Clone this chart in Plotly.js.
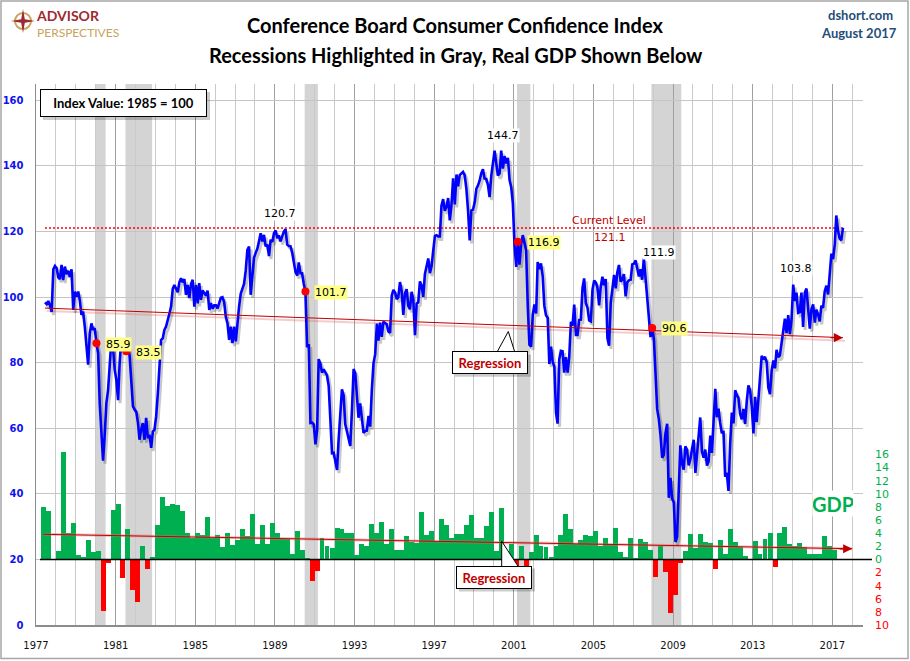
<!DOCTYPE html>
<html><head><meta charset="utf-8">
<script src="https://cdn.plot.ly/plotly-3.0.1.min.js"></script>
<style>html,body{margin:0;padding:0;background:#fff}#chart{width:910px;height:661px}</style>
</head><body><div id="chart"></div>
<script>
// ---------------- DATA ----------------
// Conference Board Consumer Confidence Index, monthly, starting June 1977
const cciStartYear = 1977, cciStartMonth = 6;
const cci1977_1986 = [
 98.4, 97.9, 98.8, 97.5, 95.5, 108.5, 109.5,
 108.8, 106.0, 105.5, 109.8, 105.2, 109.3, 107.0, 108.0, 106.2, 108.5, 96.1, 101.7,
 100.2, 101.7, 99.1, 94.6, 95.6, 91.0, 83.9, 79.4, 89.0, 92.0, 90.0, 90.5,
 85.9, 82.9, 67.6, 56.4, 50.1, 58.0, 67.6, 71.6, 79.8, 86.9, 84.4, 77.8,
 74.7, 68.6, 79.8, 86.9, 84.9, 85.9, 83.5, 85.0, 82.0, 73.8, 66.7, 65.7,
 65.0, 61.6, 56.5, 59.6, 61.6, 56.5, 63.2, 57.0, 58.0, 54.0, 59.0, 59.6,
 63.7, 70.8, 79.8, 86.9, 87.4, 90.0, 91.0, 93.5, 95.0, 97.1, 102.5, 103.7,
 102.5, 101.5, 104.5, 105.8, 104.5, 105.5, 100.7, 103.7, 99.7, 104.0, 105.3, 97.1,
 103.7, 98.1, 104.3, 99.2, 102.0, 101.0, 100.5, 102.0, 96.1, 98.2, 96.5, 97.5,
 97.5, 96.6, 98.0, 99.8, 100.0, 98.5, 94.0, 92.0, 87.0, 91.0, 86.0, 91.0
];
const cci1987_1996 = [
 86.5, 93.0, 97.0, 101.0, 102.7, 104.0, 108.0, 114.4, 115.4, 100.7, 106.5, 112.0,
 113.5, 114.8, 117.0, 119.5, 117.0, 119.0, 115.5, 116.0, 112.5, 117.5, 116.8, 119.5,
 120.3, 118.0, 118.8, 117.0, 118.5, 120.0, 120.7, 116.0, 115.6, 115.5, 113.5, 111.0,
 107.6, 106.6, 110.6, 107.3, 107.3, 104.0, 101.7, 84.7, 85.6, 61.6, 61.7, 61.2,
 55.1, 59.4, 81.1, 79.7, 77.0, 78.0, 77.2, 76.1, 72.9, 60.4, 52.4, 52.5,
 50.2, 47.3, 56.5, 65.1, 71.9, 70.0, 61.2, 59.0, 56.4, 54.6, 65.6, 78.1,
 76.7, 68.5, 63.2, 67.6, 61.9, 58.6, 59.2, 59.3, 63.8, 60.5, 71.9, 79.8,
 82.6, 91.9, 86.7, 92.2, 87.9, 92.5, 92.1, 91.7, 89.5, 89.1, 100.4, 102.2,
 101.4, 99.4, 100.0, 104.6, 102.0, 94.6, 101.1, 102.4, 97.3, 96.3, 101.6, 99.2,
 88.4, 98.0, 98.4, 104.8, 103.5, 100.1, 107.0, 109.4, 111.8, 107.3, 109.5, 114.2
];
const cci1997_2006 = [
 118.7, 118.9, 118.5, 118.5, 127.9, 129.9, 126.3, 127.6, 130.2, 123.4, 128.1, 136.2,
 128.3, 137.4, 133.8, 137.2, 137.6, 138.2, 137.2, 133.1, 126.4, 117.3, 126.4, 126.7,
 128.9, 133.1, 134.0, 135.5, 137.7, 139.0, 136.2, 136.0, 134.2, 130.5, 137.0, 141.7,
 144.7, 140.8, 137.1, 137.7, 144.7, 139.2, 143.0, 140.8, 142.5, 135.8, 133.5, 128.6,
 115.7, 109.2, 116.9, 109.9, 116.1, 118.9, 116.3, 114.3, 97.0, 85.5, 84.9, 94.6,
 97.8, 95.0, 110.7, 108.5, 110.3, 106.4, 97.4, 94.5, 93.7, 79.6, 84.9, 80.3,
 78.8, 64.8, 61.4, 81.0, 83.6, 83.5, 77.0, 81.7, 77.0, 81.7, 92.5, 91.3,
 97.7, 88.5, 88.5, 93.0, 93.1, 102.8, 105.7, 98.2, 96.7, 92.9, 92.6, 102.3,
 105.1, 104.4, 103.0, 97.5, 103.1, 106.2, 103.6, 105.5, 87.5, 85.2, 98.3, 103.6,
 106.8, 102.7, 107.5, 109.8, 104.7, 105.4, 107.0, 100.2, 104.5, 105.1, 105.3, 110.0
];
const cci2007_2017 = [
 110.2, 111.2, 108.2, 106.3, 108.5, 105.3, 111.9, 105.6, 99.5, 95.2, 87.8, 90.6,
 87.3, 76.4, 65.9, 62.8, 58.1, 51.0, 51.9, 58.5, 61.4, 38.8, 44.9, 38.6,
 37.4, 25.3, 26.9, 40.8, 54.8, 49.3, 47.4, 54.5, 53.4, 48.7, 50.6, 53.6,
 56.5, 46.4, 52.3, 57.7, 63.3, 52.9, 51.0, 53.5, 48.6, 49.9, 57.8, 52.5,
 64.8, 72.0, 63.4, 66.0, 61.7, 58.5, 59.2, 45.2, 46.4, 40.9, 55.2, 64.8,
 61.5, 71.6, 70.2, 69.2, 64.4, 62.7, 65.9, 61.3, 68.4, 73.1, 71.5, 66.7,
 58.4, 69.6, 61.9, 68.1, 76.2, 82.1, 81.0, 81.8, 80.2, 72.4, 70.4, 77.5,
 80.7, 78.3, 83.9, 81.7, 82.2, 86.4, 90.9, 93.4, 89.0, 94.5, 88.7, 93.1,
 103.8, 98.8, 101.4, 95.2, 95.4, 101.4, 90.9, 101.3, 102.6, 97.6, 90.4, 96.3,
 97.8, 92.2, 96.2, 94.7, 92.6, 97.4, 96.7, 101.8, 103.5, 100.8, 107.1, 113.3,
 111.6, 116.1, 124.9, 120.3, 117.9, 117.3, 121.1
];
// Real GDP, quarterly % change (annualized), starting 1977 Q2
const gdpStartYear = 1977, gdpStartQuarter = 2;
const gdp1977_1986 = [
 8.0, 7.4, 0.0,
 1.3, 16.4, 4.1, 5.5,
 0.7, 0.4, 2.9, 1.1,
 1.3, -7.9, -0.5, 7.6,
 8.5, -2.8, 4.7, -4.6,
 -6.5, 2.1, -1.4, 0.3,
 5.3, 9.5, 8.1, 8.5,
 8.3, 7.4, 4.0, 3.2,
 4.1, 3.7, 6.4, 3.2,
 3.8, 1.9, 4.1, 2.2
];
const gdp1987_1996 = [
 2.9, 4.6, 3.6, 6.9,
 2.3, 5.3, 2.3, 5.5,
 4.1, 3.1, 3.1, 0.8,
 4.4, 1.5, 0.2, -3.3,
 -1.8, 3.2, 2.0, 1.7,
 4.8, 4.6, 4.0, 4.1,
 0.7, 2.4, 2.0, 5.4,
 4.1, 5.7, 2.4, 4.6,
 1.4, 1.4, 3.5, 2.7,
 2.5, 7.2, 3.8, 4.3
];
const gdp1997_2006 = [
 2.8, 6.2, 5.2, 3.2,
 3.9, 3.9, 5.3, 6.7,
 3.2, 3.3, 5.1, 7.2,
 1.3, 7.8, 0.5, 2.3,
 -1.1, 2.1, -1.3, 1.1,
 3.8, 2.1, 1.9, 0.4,
 2.1, 3.8, 6.9, 4.7,
 2.3, 2.9, 3.7, 3.5,
 4.3, 2.1, 3.3, 2.3,
 4.8, 1.2, 0.4, 3.2
];
const gdp2007_2017 = [
 0.2, 3.1, 2.7, 1.4,
 -2.7, 2.0, -1.9, -8.1,
 -5.4, -0.5, 1.3, 3.9,
 1.7, 3.9, 2.7, 2.5,
 -1.5, 2.9, 0.8, 4.6,
 2.7, 1.9, 0.5, 0.1,
 2.8, 0.8, 3.1, 4.0,
 -1.2, 4.0, 5.0, 2.3,
 2.0, 2.5, 1.9, 0.9,
 0.8, 0.9, 3.5, 2.1,
 1.4
];
// NBER recessions
const recessionStart = ['1980-01-01', '1981-07-01', '1990-07-01', '2001-03-01', '2007-12-01'];
const recessionEnd   = ['1980-07-01', '1982-11-01', '1991-03-01', '2001-11-01', '2009-06-01'];
// months marked with red dots (recession starts) and peak labels
const recessionMarks = ['1980-01', '1981-07', '1990-07', '2001-03', '2007-12'];
const peakMarks = ['1989-07', '2000-05', '2007-07', '2015-01'];
const gdpPosTicks = [0, 2, 4, 6, 8, 10, 12, 14, 16];
const gdpNegTicks = [-2, -4, -6, -8, -10];

// ---------------- BUILD ----------------
const pad = n => String(n).padStart(2, '0');
const cci = [].concat(cci1977_1986, cci1987_1996, cci1997_2006, cci2007_2017);
const cciKeys = cci.map((v, i) => {
  const m0 = (cciStartMonth - 1) + i;
  return (cciStartYear + Math.floor(m0 / 12)) + '-' + pad(m0 % 12 + 1);
});
const cciDates = cciKeys.map(k => k + '-15');
const gdp = [].concat(gdp1977_1986, gdp1987_1996, gdp1997_2006, gdp2007_2017);
const gdpDates = gdp.map((v, i) => {
  const m0 = (gdpStartQuarter - 1) * 3 + 3 * i + 1;
  return (gdpStartYear + Math.floor(m0 / 12)) + '-' + pad(m0 % 12 + 1) + '-15';
});

function linreg(xs, ys) {
  let n = xs.length, sx = 0, sy = 0, sxx = 0, sxy = 0;
  for (let i = 0; i < n; i++) { sx += xs[i]; sy += ys[i]; sxx += xs[i] * xs[i]; sxy += xs[i] * ys[i]; }
  const b = (n * sxy - sx * sy) / (n * sxx - sx * sx);
  return { a: (sy - b * sx) / n, b: b };
}
const rC = linreg(cciDates.map(d => Date.parse(d)), cci);
const regCX = [cciDates[0], cciDates[cciDates.length - 1]];
const regCY = regCX.map(d => rC.a + rC.b * Date.parse(d));
const rG = linreg(gdpDates.map(d => Date.parse(d)), gdp);
const regGX = [gdpDates[0], '2018-01-01'];
const regGY = regGX.map(d => rG.a + rG.b * Date.parse(d));

const lastVal = cci[cci.length - 1];
const lastDate = cciDates[cciDates.length - 1];
const markIdx = recessionMarks.map(k => cciKeys.indexOf(k));
const peakIdx = peakMarks.map(k => cciKeys.indexOf(k));

// pixel -> paper helpers (layout geometry)
const PL = 36, PW = 832, PB = 628.5, PH = 544.5;
const px = X => (X - PL) / PW;
const py = Y => (PB - Y) / PH;
const pathOf = pts => 'M ' + pts.map(p => px(p[0]) + ',' + py(p[1])).join(' L ') + ' Z';

const XR = ['1977-01-01', '2018-07-18'];
const YR = [0, 165];
const GR = [-10, 72.5];
const QW = 91.3 * 24 * 3600 * 1000;

const traces = [
  { type: 'bar', x: gdpDates, y: gdp, xaxis: 'x', yaxis: 'y2', width: QW,
    marker: { color: gdp.map(v => v >= 0 ? '#00B050' : '#FF0000'), line: { width: 0 } } },
  { type: 'scatter', mode: 'lines', x: regGX, y: regGY, xaxis: 'x', yaxis: 'y2',
    line: { color: 'rgba(225,110,110,0.4)', width: 3 } },
  { type: 'scatter', mode: 'lines', x: regGX, y: regGY, xaxis: 'x', yaxis: 'y2',
    line: { color: '#C00000', width: 1 } },
  { type: 'scatter', mode: 'markers', x: [gdpDates[0]], y: [0], xaxis: 'x', yaxis: 'y3',
    marker: { opacity: 0 } },
  // shadows (shifted subplot)
  { type: 'scatter', mode: 'lines', x: regCX, y: regCY, xaxis: 'x2', yaxis: 'y4',
    line: { color: 'rgba(225,110,110,0.35)', width: 2 } },
  { type: 'scatter', mode: 'lines', x: cciDates, y: cci, xaxis: 'x2', yaxis: 'y4',
    line: { color: 'rgba(0,0,0,0.22)', width: 3 } },
  // top layer
  { type: 'scatter', mode: 'lines', x: [cciDates[0], lastDate], y: [lastVal, lastVal], xaxis: 'x3', yaxis: 'y5',
    line: { color: '#FF0000', width: 1.5, dash: '2px,2px' } },
  { type: 'scatter', mode: 'lines', x: cciDates, y: cci, xaxis: 'x3', yaxis: 'y5',
    line: { color: '#0000FF', width: 2.6 } },
  { type: 'scatter', mode: 'lines', x: regCX, y: regCY, xaxis: 'x3', yaxis: 'y5',
    line: { color: '#C00000', width: 1 } },
  { type: 'scatter', mode: 'markers', x: markIdx.map(i => cciDates[i]), y: markIdx.map(i => cci[i]),
    xaxis: 'x3', yaxis: 'y5', marker: { color: '#FF0000', size: 8 } }
];

const shapes = [];
recessionStart.forEach((s, i) => shapes.push({
  type: 'rect', xref: 'x', yref: 'paper', x0: s, x1: recessionEnd[i], y0: py(625.5), y1: 1,
  fillcolor: '#D4D4D4', line: { width: 0 }, layer: 'below' }));
// GDP zero baseline
shapes.push({ type: 'line', xref: 'paper', yref: 'y2', x0: px(40), x1: px(872), y0: 0, y1: 0,
  line: { color: '#000', width: 1.5 }, layer: 'above' });
// box shadows
[[43, 92, 210, 120], [455, 355, 531, 377], [459, 569, 535, 592]].forEach(b => shapes.push({
  type: 'rect', xref: 'paper', yref: 'paper', x0: px(b[0]), x1: px(b[2]), y0: py(b[3]), y1: py(b[1]),
  fillcolor: 'rgba(0,0,0,0.2)', line: { width: 0 }, layer: 'above' }));
// callout pointers
shapes.push({ type: 'path', xref: 'paper', yref: 'paper', path: pathOf([[496.7, 353], [508.3, 331.7], [515, 353]]),
  fillcolor: '#fff', line: { color: '#000', width: 1 }, layer: 'above' });
shapes.push({ type: 'path', xref: 'paper', yref: 'paper', path: pathOf([[501.7, 567], [501.7, 541.7], [518.3, 567]]),
  fillcolor: '#fff', line: { color: '#000', width: 1 }, layer: 'above' });
// logo emblem
shapes.push({ type: 'circle', xref: 'paper', yref: 'paper', x0: px(15), x1: px(31), y0: py(29), y1: py(13),
  line: { color: '#C9A45C', width: 2 }, layer: 'above' });
shapes.push({ type: 'path', xref: 'paper', yref: 'paper',
  path: pathOf([[23, 9], [24.8, 19.2], [35, 21], [24.8, 22.8], [23, 33], [21.2, 22.8], [11, 21], [21.2, 19.2]]),
  fillcolor: '#A02830', line: { width: 0 }, layer: 'above' });
// outer frame
shapes.push({ type: 'rect', xref: 'paper', yref: 'paper', x0: px(1), x1: px(908), y0: py(659), y1: py(1),
  line: { color: '#A6A6A6', width: 1.5 }, layer: 'above' });

const numFont = { family: 'DejaVu Sans', size: 11, color: '#000' };
function P(X, Y, text, font, extra) {
  return Object.assign({ xref: 'paper', yref: 'paper', x: px(X), y: py(Y), text: text, showarrow: false,
    xanchor: 'center', yanchor: 'middle', font: font }, extra || {});
}
const ann = [
  P(455, 25, '<b>Conference Board Consumer Confidence Index</b>', { family: 'Lato', size: 20, color: '#000' }),
  P(455, 55, '<b>Recessions Highlighted in Gray, Real GDP Shown Below</b>', { family: 'Lato', size: 20, color: '#000' }),
  P(860, 15, '<b>dshort.com</b>', { family: 'Lato', size: 13, color: '#1F4E79' }),
  P(859, 33, '<b>August 2017</b>', { family: 'Lato', size: 13, color: '#1F4E79' }),
  P(35, 23.5, '<b><span style="color:#9E2A2F;font-size:14px">ADVISOR</span></b><br>' +
    '<span style="color:#C9A45C">PERSPECTIVES</span>', { family: 'Lato', size: 12, color: '#C9A45C' },
    { xanchor: 'left', align: 'left', borderpad: 0 }),
  P(123.5, 103, '<b>Index Value: 1985 = 100</b>', { family: 'Lato', size: 13, color: '#000' },
    { bgcolor: '#fff', bordercolor: '#000', borderwidth: 1, borderpad: 0, width: 165, height: 26 }),
  P(490.3, 363, '<b>Regression</b>', { family: 'Lato', size: 13, color: '#C00000' },
    { bgcolor: '#fff', bordercolor: '#000', borderwidth: 1, borderpad: 0, width: 74, height: 21 }),
  P(494.5, 577.5, '<b>Regression</b>', { family: 'Lato', size: 13, color: '#C00000' },
    { bgcolor: '#fff', bordercolor: '#000', borderwidth: 1, borderpad: 0, width: 74, height: 21 }),
  P(833, 504, '<b>GDP</b>', { family: 'Lato', size: 20, color: '#00B050' },
    { bgcolor: '#fff', borderpad: 0, width: 40, height: 25 }),
  P(609, 221, 'Current Level', { family: 'DejaVu Sans', size: 11, color: '#C00000' }),
  P(610, 237.5, lastVal.toFixed(1), { family: 'DejaVu Sans', size: 11, color: '#C00000' }),
  // arrowheads at ends of regression lines
  { xref: 'x', yref: 'y', x: regCX[1], y: regCY[1], ax: -14, ay: 0, text: '', showarrow: true,
    arrowhead: 2, arrowsize: 1.4, arrowwidth: 1.3, arrowcolor: '#C00000', standoff: 0 },
  { xref: 'x', yref: 'y2', x: regGX[1], y: regGY[1], ax: -14, ay: 0, text: '', showarrow: true,
    arrowhead: 2, arrowsize: 1.4, arrowwidth: 1.3, arrowcolor: '#C00000', standoff: 0 }
];
markIdx.forEach(i => ann.push({ xref: 'x', yref: 'y', x: cciDates[i], y: cci[i], text: cci[i].toFixed(1),
  xanchor: 'left', yanchor: 'middle', xshift: 9, yshift: -1, showarrow: false, bgcolor: '#FFFF88', borderpad: 0, font: numFont }));
const peakShift = [[-6, 16], [1.5, 15.5], [15, 6], [2.5, 16]];
peakIdx.forEach((i, j) => ann.push({ xref: 'x', yref: 'y', x: cciDates[i], y: cci[i], text: cci[i].toFixed(1),
  xanchor: 'center', yanchor: 'middle', xshift: peakShift[j][0], yshift: peakShift[j][1], showarrow: false,
  bgcolor: '#fff', borderpad: 0, font: numFont }));

const layout = {
  width: 910, height: 661,
  margin: { l: PL, r: 910 - PL - PW, t: 84, b: 661 - 84 - PH },
  paper_bgcolor: '#fff', plot_bgcolor: 'rgba(0,0,0,0)',
  showlegend: false, hovermode: false, barmode: 'overlay', bargap: 0,
  xaxis: { type: 'date', domain: [0, 827 / PW], range: XR, anchor: 'y',
    tick0: '1977-01-01', dtick: 'M48', tickformat: '%Y', ticks: '',
    showgrid: true, gridcolor: '#A0A0A0', gridwidth: 1,
    minor: { dtick: 'M12', tick0: '1977-01-01', showgrid: true, gridcolor: '#CACACA', gridwidth: 1 },
    showline: true, linecolor: '#8C8C8C', linewidth: 1.5, zeroline: false,
    ticklabelstandoff: 10, tickfont: { family: 'DejaVu Sans', size: 10, color: '#111' } },
  yaxis: { domain: [3 / PH, 1], range: YR, dtick: 20, anchor: 'x', ticks: '',
    showgrid: true, gridcolor: '#C4C4C4', gridwidth: 1, zeroline: false,
    showline: true, linecolor: '#8C8C8C', linewidth: 1.5,
    ticklabelstandoff: 9, tickfont: { family: 'DejaVu Sans', size: 10, color: '#1010F0', weight: 'bold' } },
  yaxis2: { overlaying: 'y', side: 'right', anchor: 'x', range: GR, tickmode: 'array', tickvals: gdpPosTicks,
    ticks: '', showgrid: false, zeroline: false, showline: false, ticklabelstandoff: 11,
    tickfont: { family: 'DejaVu Sans', size: 11, color: '#00B050' } },
  yaxis3: { overlaying: 'y', side: 'right', anchor: 'x', range: GR, tickmode: 'array', tickvals: gdpNegTicks,
    ticktext: gdpNegTicks.map(v => String(-v)),
    ticks: '', showgrid: false, zeroline: false, showline: false, ticklabelstandoff: 11,
    tickfont: { family: 'DejaVu Sans', size: 11, color: '#FF0000' } },
  xaxis2: { type: 'date', domain: [2 / PW, 829 / PW], range: XR, anchor: 'y4', visible: false },
  yaxis4: { domain: [0, 541.5 / PH], range: YR, anchor: 'x2', visible: false },
  xaxis3: { type: 'date', domain: [0, 827 / PW], range: XR, anchor: 'y5', visible: false },
  yaxis5: { domain: [3 / PH, 1], range: YR, anchor: 'x3', visible: false },
  shapes: shapes,
  annotations: ann
};
Plotly.newPlot('chart', traces, layout, { staticPlot: true, displayModeBar: false });
</script>
</body></html>
